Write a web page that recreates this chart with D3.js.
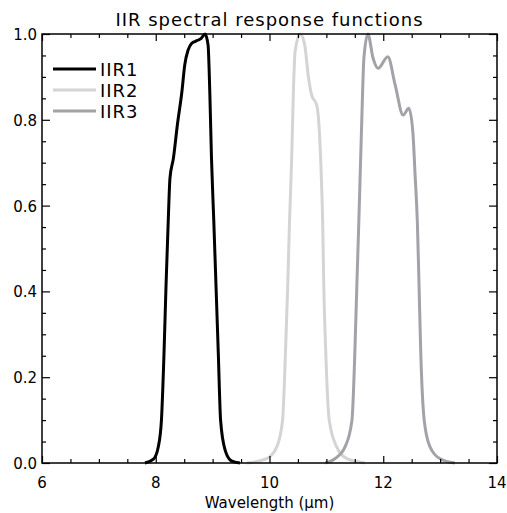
<!DOCTYPE html>
<html>
<head>
<meta charset="utf-8">
<script src="https://cdn.jsdelivr.net/npm/d3@7"></script>
<style>
  html, body { margin: 0; padding: 0; background: #fff; }
  svg text { font-family: "DejaVu Sans", sans-serif; fill: #000; }
</style>
</head>
<body>
<svg id="chart" width="507" height="513"></svg>
<script>
// band names and line colours
const bands = ["IIR1", "IIR2", "IIR3"];
const bandColors = ["#000000", "#d4d4d4", "#a2a2a8"];

// wavelength (um) and relative response
const iir1Wave = [7.81, 7.96, 8.045, 8.10, 8.145, 8.18, 8.22, 8.25, 8.31, 8.38, 8.46, 8.51, 8.57, 8.63, 8.70, 8.75, 8.80, 8.866, 8.92, 8.95, 8.98, 9.02, 9.06, 9.10, 9.14, 9.22, 9.33, 9.48];
const iir1Resp = [0, 0.009, 0.038, 0.10, 0.255, 0.411, 0.566, 0.664, 0.71, 0.788, 0.866, 0.928, 0.963, 0.978, 0.983, 0.986, 0.99, 1.0, 0.974, 0.866, 0.71, 0.566, 0.411, 0.255, 0.10, 0.03, 0.005, 0];

const iir2Wave = [9.60, 9.95, 10.13, 10.23, 10.28, 10.32, 10.35, 10.39, 10.42, 10.45, 10.54, 10.62, 10.68, 10.74, 10.83, 10.87, 10.91, 10.935, 10.955, 10.99, 11.05, 11.18, 11.36, 11.68];
const iir2Resp = [0, 0.01, 0.038, 0.10, 0.255, 0.411, 0.555, 0.71, 0.866, 0.959, 1.0, 0.974, 0.904, 0.858, 0.834, 0.788, 0.671, 0.56, 0.411, 0.255, 0.10, 0.038, 0.01, 0];

const iir3Wave = [10.98, 11.15, 11.33, 11.45, 11.50, 11.535, 11.57, 11.62, 11.66, 11.73, 11.82, 11.91, 12.08, 12.21, 12.35, 12.45, 12.52, 12.56, 12.60, 12.63, 12.66, 12.72, 12.82, 13.00, 13.26];
const iir3Resp = [0, 0.01, 0.038, 0.10, 0.255, 0.411, 0.56, 0.788, 0.944, 1.0, 0.944, 0.92, 0.947, 0.881, 0.811, 0.827, 0.772, 0.671, 0.56, 0.411, 0.255, 0.10, 0.038, 0.01, 0];

// axis ticks
const xMajor = [6, 8, 10, 12, 14];
const xMinor = [6.5, 7, 7.5, 8.5, 9, 9.5, 10.5, 11, 11.5, 12.5, 13, 13.5];
const yMajor = [0, 0.2, 0.4, 0.6, 0.8, 1.0];
const yMinor = [0.05, 0.1, 0.15, 0.25, 0.3, 0.35, 0.45, 0.5, 0.55, 0.65, 0.7, 0.75, 0.85, 0.9, 0.95];

const margin = { top: 34, right: 10, bottom: 50, left: 42 };
const width = 507 - margin.left - margin.right;
const height = 513 - margin.top - margin.bottom;

const x = d3.scaleLinear().domain([6, 14]).range([0, width]);
const y = d3.scaleLinear().domain([0, 1]).range([height, 0]);

const svg = d3.select("#chart")
  .append("g")
  .attr("transform", "translate(" + margin.left + "," + margin.top + ")");

const series = [
  { name: bands[0], color: bandColors[0], wave: iir1Wave, resp: iir1Resp },
  { name: bands[1], color: bandColors[1], wave: iir2Wave, resp: iir2Resp },
  { name: bands[2], color: bandColors[2], wave: iir3Wave, resp: iir3Resp }
];

const line = d3.line()
  .x(d => x(d[0]))
  .y(d => y(d[1]))
  .curve(d3.curveMonotoneX);

series.forEach(s => {
  svg.append("path")
    .datum(d3.zip(s.wave, s.resp))
    .attr("d", line)
    .attr("fill", "none")
    .attr("stroke", s.color)
    .attr("stroke-width", 3)
    .attr("stroke-linejoin", "round");
});

// ticks point inwards on all four sides
function tickAxis(axis, vals, size, transform) {
  const g = svg.append("g")
    .attr("transform", transform)
    .call(axis.tickValues(vals).tickSize(size).tickFormat(""));
  g.select(".domain").remove();
  g.selectAll("line").attr("stroke", "#000").attr("stroke-width", 1.2);
  return g;
}
tickAxis(d3.axisBottom(x), xMajor, -7, "translate(0," + height + ")");
tickAxis(d3.axisBottom(x), xMinor, -4, "translate(0," + height + ")");
tickAxis(d3.axisTop(x), xMajor, -7, "translate(0,0)");
tickAxis(d3.axisTop(x), xMinor, -4, "translate(0,0)");
tickAxis(d3.axisLeft(y), yMajor, -8, "translate(0,0)");
tickAxis(d3.axisLeft(y), yMinor, -4, "translate(0,0)");
tickAxis(d3.axisRight(y), yMajor, -8, "translate(" + width + ",0)");
tickAxis(d3.axisRight(y), yMinor, -4, "translate(" + width + ",0)");

svg.append("rect")
  .attr("width", width)
  .attr("height", height)
  .attr("fill", "none")
  .attr("stroke", "#000")
  .attr("stroke-width", 1.5);

// tick labels
svg.selectAll(".xlab")
  .data(xMajor)
  .enter().append("text")
  .attr("x", d => x(d))
  .attr("y", height + 25)
  .attr("text-anchor", "middle")
  .attr("font-size", 15)
  .text(d => d);

svg.selectAll(".ylab")
  .data(yMajor)
  .enter().append("text")
  .attr("x", -5)
  .attr("y", d => y(d) + 6)
  .attr("text-anchor", "end")
  .attr("font-size", 15)
  .text(d => d3.format(".1f")(d));

svg.append("text")
  .attr("x", width / 2)
  .attr("y", -8)
  .attr("text-anchor", "middle")
  .attr("font-size", 18)
  .attr("letter-spacing", 1)
  .text("IIR spectral response functions");

svg.append("text")
  .attr("x", width / 2)
  .attr("y", height + 45)
  .attr("text-anchor", "middle")
  .attr("font-size", 15)
  .text("Wavelength (\u03bcm)");

// legend
const legend = svg.append("g").attr("transform", "translate(11,35)");
series.forEach((s, i) => {
  legend.append("line")
    .attr("x1", 0).attr("x2", 43)
    .attr("y1", i * 21).attr("y2", i * 21)
    .attr("stroke", s.color)
    .attr("stroke-width", 3);
  legend.append("text")
    .attr("x", 47)
    .attr("y", i * 21 + 6.5)
    .attr("font-size", 18)
    .attr("letter-spacing", 1)
    .text(s.name);
});
</script>
</body>
</html>
